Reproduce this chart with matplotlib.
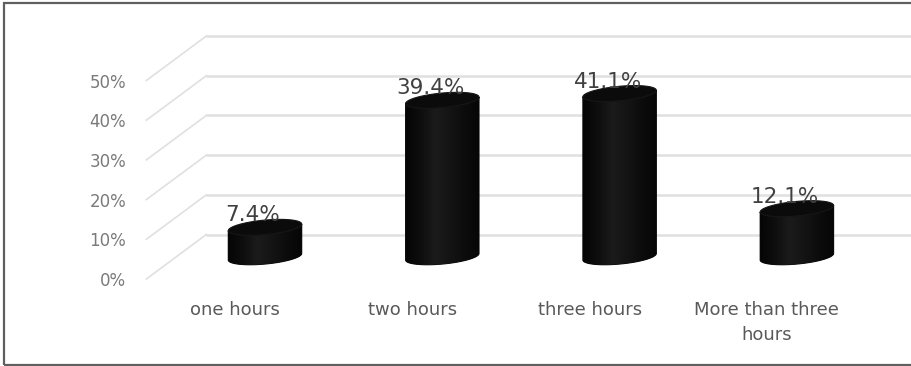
import numpy as np
import matplotlib
matplotlib.use("Agg")
import matplotlib.pyplot as plt
from matplotlib.patches import Polygon, Rectangle
from matplotlib.colors import LinearSegmentedColormap

# Data
categories = ["one hours", "two hours", "three hours", "More than three\nhours"]
values = [7.4, 39.4, 41.1, 12.1]
value_labels = ["7.4%", "39.4%", "41.1%", "12.1%"]
y_ticks = [0, 10, 20, 30, 40, 50]
y_tick_labels = ["0%", "10%", "20%", "30%", "40%", "50%"]

W, H = 911, 366
fig = plt.figure(figsize=(W / 100, H / 100), dpi=100)
fig.patch.set_facecolor("white")

# Front plane of the 3-D box
ax_left, ax_width = 146.35, 709.2
ax_bottom_px, ax_height = 279.0, 198.5
ax = fig.add_axes([ax_left / W, (H - ax_bottom_px) / H, ax_width / W, ax_height / H])
ax.set_facecolor("none")
for s in ax.spines.values():
    s.set_visible(False)

xmin, xmax, ymin, ymax = -0.5, 3.5, 0, 50
px_x = ax_width / (xmax - xmin)   # pixels per category
px_y = ax_height / (ymax - ymin)  # pixels per percent

# Depth direction of the box (oblique projection)
depth_dx = 60 / px_x
depth_dy = 44.5 / px_y

grid_col = "#e0e0e0"
for v in y_ticks:
    # back wall line
    ax.plot([xmin + depth_dx, xmax + depth_dx + 1], [v + depth_dy, v + depth_dy],
            color=grid_col, lw=1.8, clip_on=False, zorder=1, solid_capstyle="butt")
    # side wall line
    ax.plot([xmin, xmin + depth_dx], [v, v + depth_dy],
            color=grid_col, lw=1.2, clip_on=False, zorder=1)

# Cylinder geometry (pixels -> data units)
A = 33.5 / px_x
Bx = 15.0 / px_x
By = 8.0 / px_y
th0 = np.arctan2(Bx, A)

shade = LinearSegmentedColormap.from_list(
    "shade", ["#050505", "#0e0e0e", "#1b1b1b", "#141414", "#0c0c0c", "#060606"])

for i, v in enumerate(values):
    xc = i + depth_dx / 2
    yb = depth_dy / 2
    yt = v + depth_dy / 2
    t = np.linspace(th0 + np.pi, th0 + 2 * np.pi, 120)
    bx = xc + A * np.cos(t) + Bx * np.sin(t)
    byy = yb + By * np.sin(t)
    tx = xc + A * np.cos(t[::-1]) + Bx * np.sin(t[::-1])
    ty = yt + By * np.sin(t[::-1])
    body_xy = np.column_stack([np.concatenate([bx, tx]), np.concatenate([byy, ty])])
    body = Polygon(body_xy, closed=True, facecolor="#0d0d0d", edgecolor="#0a0a0a",
                   lw=0.8, zorder=3)
    ax.add_patch(body)
    half_w = np.hypot(A, Bx)
    grad = np.linspace(0, 1, 256).reshape(1, -1)
    im = ax.imshow(grad, cmap=shade, aspect="auto", interpolation="bilinear",
                   extent=[xc - half_w, xc + half_w, yb - By, yt + By], zorder=3.5)
    im.set_clip_path(body)

    tt = np.linspace(0, 2 * np.pi, 200)
    cap_xy = np.column_stack([xc + A * np.cos(tt) + Bx * np.sin(tt),
                              yt + By * np.sin(tt)])
    ax.add_patch(Polygon(cap_xy, closed=True, facecolor="#0b0b0b",
                         edgecolor="#161616", lw=0.8, zorder=4))

    ax.text(xc - 12 / px_x, yt + 1.5, value_labels[i], ha="center", va="baseline",
            fontsize=15.5, color="#404040", family="DejaVu Sans", zorder=6)

ax.set_xlim(xmin, xmax)
ax.set_ylim(ymin, ymax)
ax.set_xticks(range(len(categories)))
ax.set_xticklabels(categories, fontsize=13, color="#595959")
for lab in ax.get_xticklabels():
    lab.set_linespacing(1.45)
ax.set_yticks(y_ticks)
ax.set_yticklabels(y_tick_labels, fontsize=12, color="#7a7a7a")
ax.tick_params(axis="x", length=0, pad=16)
ax.tick_params(axis="y", length=0, pad=14.4)

# Outer frame
fig.add_artist(Rectangle((4 / W, 1.5 / H), 1.2, 1 - 4.5 / H, transform=fig.transFigure,
                         fill=False, edgecolor="#5f5f5f", lw=1.6))

fig.savefig("out.png", dpi=100)
